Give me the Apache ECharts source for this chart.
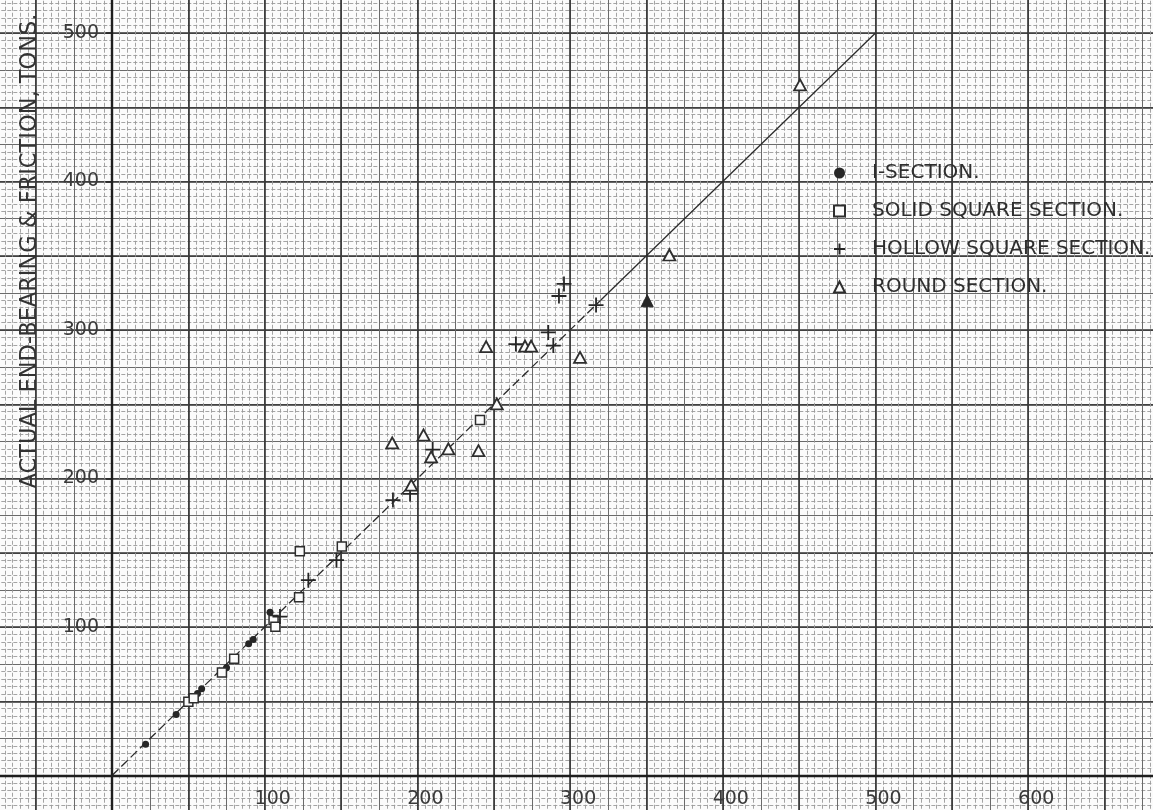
<!DOCTYPE html>
<html>
<head>
<meta charset="utf-8">
<script src="https://cdn.jsdelivr.net/npm/echarts@6/dist/echarts.min.js"></script>
<style>
  html, body { margin: 0; padding: 0; background: #fbfbfb; }
  #chart { width: 1153px; height: 810px; }
</style>
</head>
<body>
<div id="chart"></div>
<script>
// ---- data (calculated load, actual load) in tons ----
const iSection = [[22,21],[42,41],[56,55.3],[58.7,58.5],[75,72.5],[89.5,88.7],[92.5,91.5],[103.5,110]];
const solidSquare = [[50,49.7],[53.5,52],[72,69.3],[80,78.7],[105.8,104.7],[107,100.2],[122.5,120],[123,151],[150.5,154.2],[241,239.4]];
const hollowSquare = [[110,107],[128.6,131.5],[147,145],[184,185.5],[195.2,189.6],[210,219.5],[264.5,290.5],[285.7,298.4],[289,289.5],[292.7,322.9],[296,331],[317,316.8]];
const roundSection = [[183.5,224],[196,195.6],[204,229.3],[209,214.5],[220.3,220],[240,218.7],[245,288.8],[252,250.2],[270.5,289.2],[274.5,289.2],[306.5,281.6],[365,350.5],[450.6,465]];
const roundFilled = [[350.5,319.7]];
const refDashed = [[0,0],[320,320]];
const refSolid = [[320,320],[500,500]];
const xTickLabels = [100,200,300,400,500,600];
const yTickLabels = [100,200,300,400,500];
const seriesNames = ['I-SECTION.','SOLID SQUARE SECTION.','HOLLOW SQUARE SECTION.','ROUND SECTION.'];
const yTitle = 'ACTUAL END-BEARING & FRICTION, TONS.';

const crossPath = 'path://M0,6L12,6M6,0L6,12';
const paper = '#fbfbfb';
const ink = '#262626';

const chart = echarts.init(document.getElementById('chart'), null, {renderer: 'canvas'});

// graph-paper axes (grid 0): medium every 25, fine every 5
function paperAxis(min, max) {
  return {
    gridIndex: 0, type: 'value', min: min, max: max, interval: 25,
    axisLine: { show: false }, axisTick: { show: false }, axisLabel: { show: false },
    splitLine: { show: true, lineStyle: { color: '#6a6a6a', width: 1 } },
    minorTick: { show: false, splitNumber: 5 },
    minorSplitLine: { show: true, lineStyle: { color: '#9a9a9a', width: 0.9, type: [4, 2] } }
  };
}
// graph-paper heavy lines every 50
function majorAxis(min, max) {
  return {
    gridIndex: 0, type: 'value', min: min, max: max, interval: 50,
    axisLine: { show: false }, axisTick: { show: false }, axisLabel: { show: false },
    splitLine: { show: true, lineStyle: { color: '#333', width: 1.6 } }
  };
}
// data axes (grid 1), origin at the drawn axes
function dataAxis(max, labels, isX) {
  return {
    gridIndex: 1, type: 'value', min: 0, max: max, interval: 100,
    position: isX ? 'bottom' : 'left',
    axisLine: { show: false },
    axisTick: { show: !isX, length: 6, lineStyle: { color: '#222', width: 1.5 } },
    axisLabel: {
      show: true, fontFamily: 'DejaVu Sans', fontSize: 19, color: '#3a3a3a',
      margin: isX ? 14 : 13,
      padding: isX ? [0,0,0,16] : [0,0,0,0],
      formatter: function (v) { return labels.indexOf(v) >= 0 ? String(v) : ''; }
    },
    splitLine: { show: false }
  };
}

const option = {
  backgroundColor: paper,
  animation: false,
  grid: [
    { left: -40.7, right: -27.9, top: -41.25, bottom: -39.75, containLabel: false, outerBoundsMode: 'none' },
    { left: 112, right: -27.9, top: -41.25, bottom: 34.5, containLabel: false, outerBoundsMode: 'none' }
  ],
  xAxis: [ paperAxis(-100, 700), majorAxis(-100, 700), dataAxis(700, xTickLabels, true) ],
  yAxis: [ paperAxis(-50, 550), majorAxis(-50, 550), dataAxis(550, yTickLabels, false) ],
  legend: {
    orient: 'vertical', left: 826.5, top: 158,
    itemWidth: 11, itemHeight: 11, itemGap: 18,
    textStyle: { fontFamily: 'DejaVu Sans', fontSize: 20, lineHeight: 20, color: '#2e2e2e', padding: [0,0,0,22] },
    data: [
      { name: seriesNames[0], icon: 'circle' },
      { name: seriesNames[1], icon: 'rect' },
      { name: seriesNames[2], icon: crossPath },
      { name: seriesNames[3], icon: 'triangle' }
    ],
    selectedMode: false
  },
  graphic: [{
    type: 'text', x: 30, y: 251, rotation: Math.PI / 2,
    style: { text: yTitle, fontFamily: 'DejaVu Sans', fontSize: 22.5, fill: '#333', textAlign: 'center', textVerticalAlign: 'middle' },
    z: 100
  }],
  series: [
    { type: 'line', xAxisIndex: 0, yAxisIndex: 0, data: refDashed, symbol: 'none', silent: true,
      lineStyle: { color: '#2a2a2a', width: 1.3, type: [9, 4] }, z: 2,
      markLine: {
        silent: true, symbol: ['none', 'none'], label: { show: false },
        lineStyle: { color: '#1e1e1e', width: 2.4, type: 'solid' },
        emphasis: { disabled: true },
        data: [{ xAxis: 0 }, { yAxis: 0 }]
      } },
    { type: 'line', xAxisIndex: 0, yAxisIndex: 0, data: refSolid, symbol: 'none', silent: true,
      lineStyle: { color: '#2a2a2a', width: 1.3 }, z: 2 },
    { name: seriesNames[0], type: 'scatter', xAxisIndex: 2, yAxisIndex: 2, data: iSection,
      symbol: 'circle', symbolSize: 7, itemStyle: { color: ink, opacity: 1 }, z: 5 },
    { name: seriesNames[1], type: 'scatter', xAxisIndex: 2, yAxisIndex: 2, data: solidSquare,
      symbol: 'rect', symbolSize: 9, itemStyle: { color: paper, borderColor: '#2e2e2e', borderWidth: 1.5, opacity: 1 }, z: 5 },
    { name: seriesNames[2], type: 'scatter', xAxisIndex: 2, yAxisIndex: 2, data: hollowSquare,
      symbol: crossPath, symbolSize: 15, itemStyle: { color: 'none', borderColor: ink, borderWidth: 1.8, opacity: 1 }, z: 5 },
    { name: seriesNames[3], type: 'scatter', xAxisIndex: 2, yAxisIndex: 2, data: roundSection,
      symbol: 'triangle', symbolSize: [12, 11], itemStyle: { color: paper, borderColor: '#2e2e2e', borderWidth: 1.8, opacity: 1 }, z: 5 },
    { name: seriesNames[3], type: 'scatter', xAxisIndex: 2, yAxisIndex: 2, data: roundFilled,
      symbol: 'triangle', symbolSize: [12, 12], itemStyle: { color: ink, borderColor: ink, borderWidth: 1, opacity: 1 }, z: 5 }
  ]
};
chart.setOption(option);
</script>
</body>
</html>
